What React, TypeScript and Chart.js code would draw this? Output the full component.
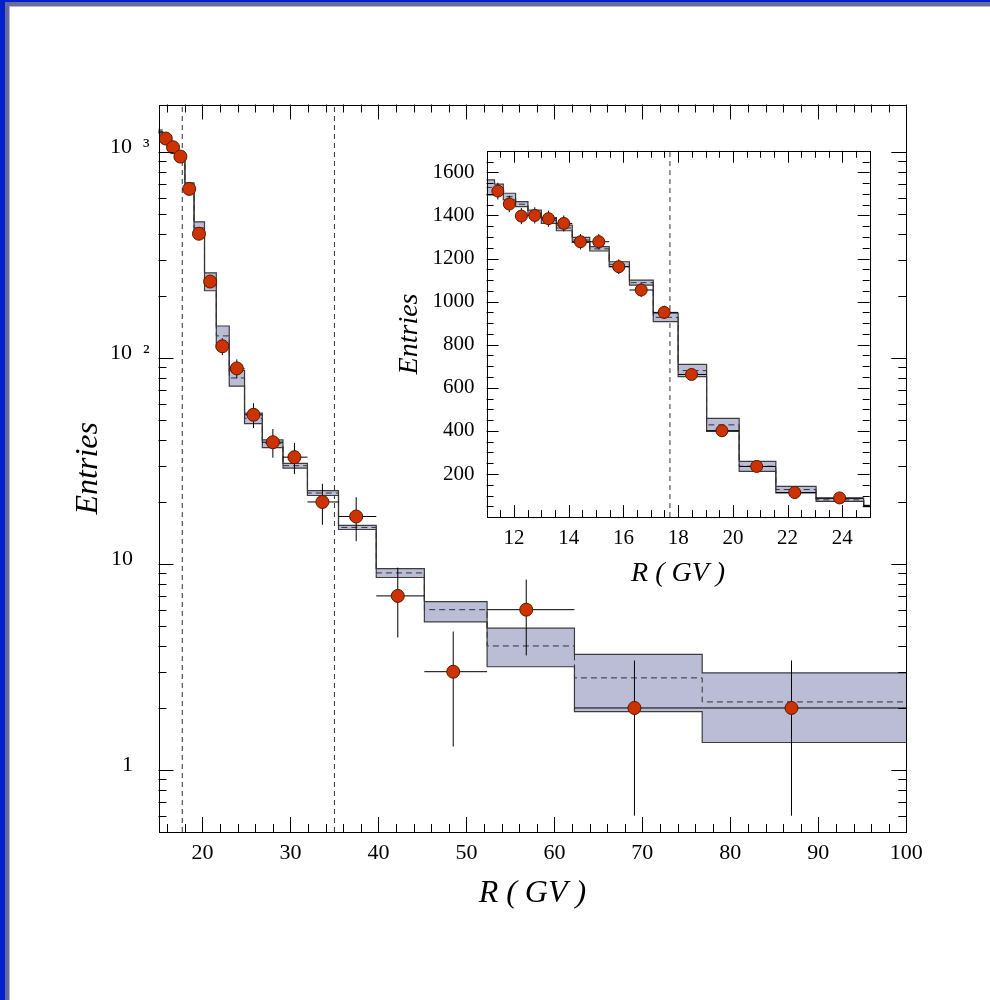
import React, { useEffect, useRef } from 'react';
import { Chart, registerables } from 'chart.js';

Chart.register(...registerables);

// ---------------- data ----------------
const binEdges = [10.97, 11.29, 11.61, 12.06, 12.51, 13.0, 13.55, 14.13, 14.77, 15.48, 16.22, 17.09, 18.0, 19.04, 20.23, 21.57, 23.04, 24.78, 26.8, 29.15, 31.93, 35.46, 39.75, 45.22, 52.35, 62.28, 76.8, 100];
const mcCenter = [1530, 1530, 1487, 1452, 1413, 1376, 1342, 1286, 1245, 1173, 1088, 927, 680, 428, 236, 128, 80, 51, 38.5, 30, 22.1, 15.05, 9.05, 6.0, 4.0, 2.8, 2.14];
const mcLow = [1495, 1515, 1472, 1441, 1402, 1363, 1329, 1275, 1235, 1162, 1077, 907, 652, 398, 212, 112, 73, 48, 36.7, 29.2, 21.5, 14.7, 8.6, 5.24, 3.17, 1.92, 1.36];
const mcHigh = [1565, 1545, 1503, 1464, 1425, 1390, 1355, 1298, 1255, 1185, 1100, 946, 709, 458, 259, 143, 87, 54, 40, 30.8, 22.7, 15.4, 9.5, 6.57, 4.88, 3.64, 2.96];

const dataX = [11.41, 11.83, 12.27, 12.76, 13.26, 13.82, 14.43, 15.1, 15.83, 16.65, 17.49, 18.49, 19.6, 20.87, 22.26, 23.9, 25.8, 28.0, 30.45, 33.63, 37.47, 42.2, 48.5, 56.8, 69.1, 86.95];
const dataY = [1513, 1453, 1397, 1400, 1385, 1363, 1278, 1278, 1162, 1054, 950, 662, 401, 235, 114, 89, 53, 39, 33, 20, 17, 7, 3, 6, 2, 2];
const dataErr = [38.9, 38.1, 37.4, 37.4, 37.2, 36.9, 35.7, 35.7, 34.1, 32.5, 30.8, 25.7, 20.0, 15.3, 10.7, 9.4, 7.3, 6.2, 5.7, 4.5, 4.1, 2.6, 1.7, 2.4, 1.4, 1.4];

const mainCuts = [17.7, 35.0];
const insetCuts = [17.7];

const mainXTicks = [20, 30, 40, 50, 60, 70, 80, 90, 100];
const mainXLabels = ['20', '30', '40', '50', '60', '70', '80', '90', '100'];
const mainYTicks = [1, 10, 100, 1000];
const mainYLabels = ['1\u2002\u2005', '10\u2002\u2005', '10\u2002\u00B2', '10\u2002\u00B3'];

const insetXTicks = [12, 14, 16, 18, 20, 22, 24];
const insetXLabels = ['12', '14', '16', '18', '20', '22', '24'];
const insetYTicks = [200, 400, 600, 800, 1000, 1200, 1400, 1600];
const insetYLabels = ['200', '400', '600', '800', '1000', '1200', '1400', '1600'];

const xTitle = 'R ( GV )';
const yTitle = 'Entries';

// ---------------- helpers ----------------
const SERIF = "'Liberation Serif', 'Times New Roman', 'DejaVu Serif', serif";

type Pt = { x: number; y: number | null };

function stepData(vals: number[]): Pt[] {
  const pts: Pt[] = vals.map((v, i) => ({ x: binEdges[i], y: v }));
  pts.push({ x: binEdges[vals.length], y: vals[vals.length - 1] });
  return pts;
}

function vErrData(): Pt[] {
  const pts: Pt[] = [];
  dataX.forEach((x, i) => {
    pts.push({ x, y: dataY[i] - dataErr[i] }, { x, y: dataY[i] + dataErr[i] }, { x, y: null });
  });
  return pts;
}

function hErrData(): Pt[] {
  const pts: Pt[] = [];
  dataX.forEach((_, i) => {
    const lo = binEdges[i + 1];
    const hi = binEdges[i + 2];
    pts.push({ x: lo, y: dataY[i] }, { x: hi, y: dataY[i] }, { x: hi, y: null });
  });
  return pts;
}

function cutData(cuts: number[], yMin: number, yMax: number): Pt[] {
  const pts: Pt[] = [];
  cuts.forEach((c) => pts.push({ x: c, y: yMin }, { x: c, y: yMax }, { x: c, y: null }));
  return pts;
}

function labelFor(ticks: number[], labels: string[]) {
  return (value: number | string) => {
    const v = Number(value);
    const i = ticks.findIndex((t) => Math.abs(t - v) <= 1e-9 * Math.max(1, Math.abs(t)));
    return i >= 0 ? labels[i] : '';
  };
}

type Cfg = {
  xMin: number; xMax: number; yMin: number; yMax: number; logY: boolean;
  padding: { left: number; top: number; right: number; bottom: number };
  yWidth: number; xHeight: number;
  xTicks: number[]; xLabels: string[]; yTicks: number[]; yLabels: string[];
  xMinor: number[]; yMinor: number[]; majorLen: number; minorLen: number;
  xTickFont: number; yTickFont: number; xTickPad: number; yTickPad: number; yLabelOffset: number;
  titleFont: number; xTitlePadBottom: number; yTitlePadTop: number;
  cuts: number[]; markerRadius: number; markerMinX: number;
};

function framePlugin(cfg: Cfg) {
  return {
    id: 'frameTicks',
    afterDraw(chart: any) {
      const { ctx, chartArea: a } = chart;
      const xs = chart.scales.x;
      const ys = chart.scales.y;
      ctx.save();
      ctx.strokeStyle = '#000';
      ctx.lineWidth = 1;
      ctx.beginPath();
      const xt = (v: number, len: number) => {
        const p = Math.round(xs.getPixelForValue(v)) + 0.5;
        ctx.moveTo(p, a.bottom); ctx.lineTo(p, a.bottom - len);
        ctx.moveTo(p, a.top); ctx.lineTo(p, a.top + len);
      };
      const yt = (v: number, len: number) => {
        const p = Math.round(ys.getPixelForValue(v)) + 0.5;
        ctx.moveTo(a.left, p); ctx.lineTo(a.left + len, p);
        ctx.moveTo(a.right, p); ctx.lineTo(a.right - len, p);
      };
      cfg.xTicks.forEach((v) => xt(v, cfg.majorLen));
      cfg.xMinor.forEach((v) => xt(v, cfg.minorLen));
      cfg.yTicks.forEach((v) => yt(v, cfg.majorLen));
      cfg.yMinor.forEach((v) => yt(v, cfg.minorLen));
      ctx.stroke();
      ctx.strokeRect(Math.round(a.left) + 0.5, Math.round(a.top) + 0.5, Math.round(a.right) - Math.round(a.left), Math.round(a.bottom) - Math.round(a.top));
      ctx.restore();
    },
  };
}

function buildConfig(cfg: Cfg): any {
  const markers = dataX
    .map((x, i) => ({ x, y: dataY[i] }))
    .filter((p) => p.x >= cfg.markerMinX);
  const lineBase = { pointRadius: 0, pointHoverRadius: 0, fill: false, spanGaps: false };
  return {
    type: 'line',
    data: {
      datasets: [
        {
          label: 'Data', data: markers, showLine: false, order: 0, clip: 0,
          pointRadius: cfg.markerRadius, pointHoverRadius: cfg.markerRadius,
          pointBackgroundColor: '#cc3300', pointBorderColor: '#5a1800', pointBorderWidth: 1,
        },
        { ...lineBase, label: 'Stat. error (R)', data: vErrData(), borderColor: '#000', borderWidth: 1, order: 1 },
        { ...lineBase, label: 'Bin width', data: hErrData(), borderColor: '#000', borderWidth: 1, order: 1 },
        { ...lineBase, label: 'MC', data: stepData(mcCenter), stepped: 'before', borderColor: '#333', borderWidth: 1, borderDash: [6, 4], order: 2 },
        { ...lineBase, label: 'MC low', data: stepData(mcLow), stepped: 'before', borderColor: '#3c3c3c', borderWidth: 1.2, order: 3 },
        { ...lineBase, label: 'MC high', data: stepData(mcHigh), stepped: 'before', borderColor: '#3c3c3c', borderWidth: 1.2, order: 3, fill: '-1', backgroundColor: '#bbbdd6' },
        { ...lineBase, label: 'Cut', data: cutData(cfg.cuts, cfg.yMin, cfg.yMax), borderColor: '#333', borderWidth: 1, borderDash: [5, 4], order: 4 },
      ],
    },
    options: {
      animation: false,
      responsive: false,
      devicePixelRatio: 1,
      events: [],
      layout: { padding: cfg.padding },
      plugins: { legend: { display: false }, tooltip: { enabled: false }, title: { display: false } },
      scales: {
        x: {
          type: 'linear', min: cfg.xMin, max: cfg.xMax,
          grid: { display: false }, border: { display: false },
          afterBuildTicks: (s: any) => { s.ticks = cfg.xTicks.map((v) => ({ value: v })); },
          afterFit: (s: any) => { s.height = cfg.xHeight; },
          ticks: {
            autoSkip: false, maxRotation: 0, minRotation: 0, color: '#000', padding: cfg.xTickPad,
            font: { family: SERIF, size: cfg.xTickFont },
            callback: labelFor(cfg.xTicks, cfg.xLabels),
          },
          title: {
            display: true, text: xTitle, color: '#000',
            font: { family: SERIF, size: cfg.titleFont, style: 'italic' },
            padding: { top: 0, bottom: cfg.xTitlePadBottom },
          },
        },
        y: {
          type: cfg.logY ? 'logarithmic' : 'linear', min: cfg.yMin, max: cfg.yMax,
          grid: { display: false }, border: { display: false },
          afterBuildTicks: (s: any) => { s.ticks = cfg.yTicks.map((v) => ({ value: v })); },
          afterFit: (s: any) => { s.width = cfg.yWidth; },
          ticks: {
            autoSkip: false, color: '#000', padding: cfg.yTickPad, labelOffset: cfg.yLabelOffset,
            font: { family: SERIF, size: cfg.yTickFont },
            callback: labelFor(cfg.yTicks, cfg.yLabels),
          },
          title: {
            display: true, text: yTitle, color: '#000',
            font: { family: SERIF, size: cfg.titleFont, style: 'italic' },
            padding: { top: cfg.yTitlePadTop, bottom: 0 },
          },
        },
      },
    },
    plugins: [framePlugin(cfg)],
  };
}

// ---------------- tick decorations ----------------
const mainXMinor: number[] = [];
for (let v = 16; v < 100; v += 2) if (v % 10 !== 0) mainXMinor.push(v);
const mainYMinor: number[] = [];
[0.1, 1, 10, 100, 1000].forEach((d) => {
  for (let m = 2; m <= 9; m++) {
    const v = m * d;
    if (v > 0.51 && v < 1700) mainYMinor.push(v);
  }
});
const insetXMinor: number[] = [];
for (let v = 11.5; v < 25; v += 0.5) if (v % 2 !== 0) insetXMinor.push(v);
const insetYMinor: number[] = [];
for (let v = 50; v < 1700; v += 50) if (v % 200 !== 0) insetYMinor.push(v);

const MAIN_W = 990;
const MAIN_H = 1000;
const mainCfg: Cfg = {
  xMin: 15, xMax: 100, yMin: 0.5, yMax: 1700, logY: true,
  padding: { left: 0, top: 104.5, right: MAIN_W - 906.3, bottom: 0 },
  yWidth: 158.5, xHeight: MAIN_H - 832,
  xTicks: mainXTicks, xLabels: mainXLabels, yTicks: mainYTicks, yLabels: mainYLabels,
  xMinor: mainXMinor, yMinor: mainYMinor, majorLen: 15, minorLen: 8,
  xTickFont: 22, yTickFont: 22, xTickPad: 0, yTickPad: 1, yLabelOffset: -5,
  titleFont: 32, xTitlePadBottom: 87, yTitlePadTop: 69,
  cuts: mainCuts, markerRadius: 6.5, markerMinX: 15.48,
};

const INSET_L = 380;
const INSET_T = 110;
const INSET_W = 510;
const INSET_H = 490;
const insetCfg: Cfg = {
  xMin: 11, xMax: 25, yMin: 0, yMax: 1700, logY: false,
  padding: { left: 0, top: 150.8 - INSET_T, right: INSET_L + INSET_W - 869.7, bottom: 0 },
  yWidth: 486.6 - INSET_L, xHeight: INSET_T + INSET_H - 517.1,
  xTicks: insetXTicks, xLabels: insetXLabels, yTicks: insetYTicks, yLabels: insetYLabels,
  xMinor: insetXMinor, yMinor: insetYMinor, majorLen: 12, minorLen: 7,
  xTickFont: 21, yTickFont: 21, xTickPad: 1, yTickPad: 4, yLabelOffset: 0,
  titleFont: 28, xTitlePadBottom: 10, yTitlePadTop: 13,
  cuts: insetCuts, markerRadius: 6, markerMinX: 11,
};

function ChartCanvas(props: { cfg: Cfg; left: number; top: number; width: number; height: number }) {
  const ref = useRef<HTMLCanvasElement>(null);
  useEffect(() => {
    const chart = new Chart(ref.current as HTMLCanvasElement, buildConfig(props.cfg));
    return () => chart.destroy();
  }, []);
  return (
    <canvas
      ref={ref}
      width={props.width}
      height={props.height}
      style={{ position: 'absolute', left: props.left, top: props.top, width: props.width, height: props.height }}
    />
  );
}

export default function App() {
  return (
    <div style={{ position: 'absolute', left: 0, top: 0, width: MAIN_W, height: MAIN_H, background: '#fff', overflow: 'hidden' }}>
      <div style={{ position: 'absolute', left: 0, top: 0, width: MAIN_W, height: 2, background: '#0022cc' }} />
      <div style={{ position: 'absolute', left: 0, top: 0, width: 5, height: MAIN_H, background: '#0022cc' }} />
      <div style={{ position: 'absolute', left: 5, top: 2, width: MAIN_W - 5, height: 4, background: '#6a6aa0' }} />
      <div style={{ position: 'absolute', left: 5, top: 2, width: 4, height: MAIN_H - 2, background: '#6a6aa0' }} />
      <div style={{ position: 'absolute', left: 9, top: 6, width: MAIN_W - 9, height: 1, background: '#b4b4d8' }} />
      <div style={{ position: 'absolute', left: 9, top: 6, width: 1, height: MAIN_H - 6, background: '#b4b4d8' }} />
      <ChartCanvas cfg={mainCfg} left={0} top={0} width={MAIN_W} height={MAIN_H} />
      <ChartCanvas cfg={insetCfg} left={INSET_L} top={INSET_T} width={INSET_W} height={INSET_H} />
    </div>
  );
}
